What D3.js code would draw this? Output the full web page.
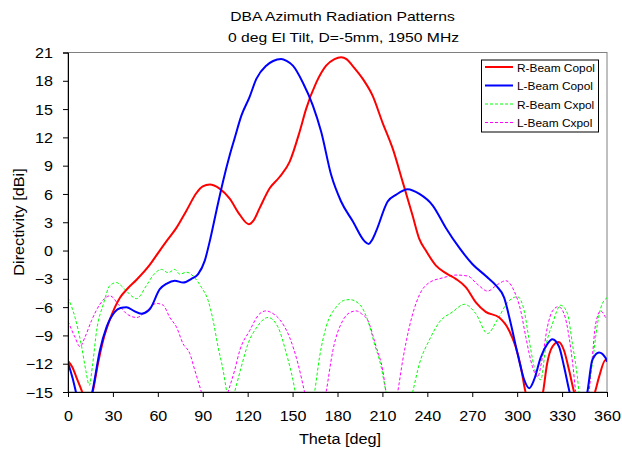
<!DOCTYPE html>
<html><head><meta charset="utf-8">
<script src="https://cdn.jsdelivr.net/npm/d3@7"></script>
<style>
html,body{margin:0;padding:0;background:#fff;}
text{font-family:"Liberation Sans",Arial,sans-serif;}
</style></head>
<body>
<svg id="chart" width="622" height="452"></svg>
<script>
const titleLines = ["DBA Azimuth Radiation Patterns", "0 deg El Tilt, D=-5mm, 1950 MHz"];
const xLabel = "Theta [deg]";
const yLabel = "Directivity [dBi]";
const xTicks = [0,30,60,90,120,150,180,210,240,270,300,330,360];
const yTicks = [-15,-12,-9,-6,-3,0,3,6,9,12,15,18,21];
const seriesNames = ["R-Beam Copol","L-Beam Copol","R-Beam Cxpol","L-Beam Cxpol"];

const rCopolTheta = [0,3,6,9.5,13,16.5,20,23.5,28,34.7,40,45.8,54.7,60,65.8,72.4,79,85.8,90,94.7,101,108,114.7,120.7,124,128,134.7,141.3,148,154.7,159,165.8,172.4,178,182.4,186,190,196.9,203.5,210,216.9,223.5,230,234.7,239,245.8,252.4,259,265.8,272.4,279,288,294.7,299,302.4,305.3,308,314,317.3,320,323.5,327.6,331.3,334.7,338,345,352,354.7,359,360];
const rCopolVal = [-11.7,-12.4,-13.6,-15,-16.5,-15,-12.0,-9.5,-7.3,-5.0,-4.0,-3.1,-1.5,-0.3,1.0,2.4,4.2,6.1,6.8,7.0,6.6,5.5,3.8,2.8,3.2,4.5,6.6,7.8,9.4,12.6,15.0,17.8,19.6,20.3,20.5,20.3,19.6,18.2,16.4,13.6,10.8,7.3,3.8,1.2,0.0,-1.6,-2.4,-3.0,-3.9,-5.5,-6.5,-7.1,-8.5,-10.2,-12.3,-14.8,-16.5,-17.5,-15,-12.0,-10.2,-9.7,-10.6,-12.7,-15,-18,-15,-13.4,-11.6,-11.7];

const lCopolTheta = [0,3,5.3,10,16.2,21.3,25.8,31.3,35,39,44,49,54.7,61.3,66,71.3,76.9,82.4,86.9,91.3,94.7,99.1,103.5,108,111.3,115.8,121.3,125.8,132.4,137,142.4,146,150.2,156.9,163.5,169.1,175.8,182.4,190.2,198,200.9,203,205.8,213.5,219,226.9,234.7,243.5,252.4,261.3,270.2,279.1,285.8,291.3,295.8,300.2,304.7,308,311.3,315.8,320.2,323.5,328,331.3,334.7,340,346.9,350.2,354.7,359.1,360];
const lCopolVal = [-11.9,-13.5,-15,-18,-15,-10.6,-8.1,-6.5,-6.1,-6.0,-6.4,-6.7,-6.2,-4.1,-3.5,-3.2,-3.4,-3.0,-2.5,-1.1,1.0,4.2,7.3,10.1,11.9,14.3,16.3,18.2,19.6,20.1,20.3,20.1,19.6,17.8,15.4,12.6,8.0,5.2,3.1,1.0,0.7,1.1,2.05,5.2,5.9,6.5,6.0,4.8,2.4,0.3,-1.45,-2.7,-3.7,-5.0,-7.8,-10.9,-13.7,-14.6,-13.7,-11.3,-9.9,-9.4,-10.2,-12.3,-14.8,-18,-15,-11.6,-10.8,-11.4,-11.8];

const rCxpolTheta = [0,4.7,9.1,12,14.2,16.5,19.1,23.6,28,32.4,36,39.1,45.8,52.4,57,62.4,66.9,71.3,74.7,79.1,84.7,89.1,93.6,96.9,100.2,103.6,105.8,108,111.3,115.8,120.2,125.8,133.6,140.2,145.8,150.2,151.8,158,164.7,168,172.4,179.1,184,188,194.7,200.2,204.7,209.1,212.4,221,230.2,234.7,241.3,248,256.9,264.7,272.4,280.2,286.9,293.6,300.2,304.7,308,311.3,315.8,319.1,323.5,329.1,333.6,336.9,340.2,341.3,344,346.9,350.2,353.6,356,360];
const rCxpolVal = [-5.0,-7.1,-10.2,-12.8,-14.3,-12.0,-8.5,-5.7,-3.7,-3.4,-3.8,-4.3,-5.1,-3.7,-2.6,-2.0,-2.35,-2.0,-2.5,-2.3,-2.9,-3.9,-5.3,-7.4,-10.2,-12.7,-14.8,-17,-15,-12.3,-9.9,-8.2,-7.1,-8.1,-10.9,-13.7,-15,-19,-15,-11.3,-8.1,-6.0,-5.3,-5.2,-5.7,-7.4,-9.9,-12.3,-15,-20,-15,-12.0,-9.5,-7.6,-6.5,-5.7,-6.7,-8.8,-7.3,-5.5,-4.9,-6.4,-9.5,-12.3,-13.7,-10.2,-7.8,-5.8,-6.7,-9.9,-13.4,-15,-17,-15,-12.0,-7.8,-6.0,-5.0];

const lCxpolTheta = [0,4.7,8,11.3,15.8,21.3,28,33.6,39.1,45.8,52.4,59.1,63.6,68,72.4,76.9,81.3,84.7,89.1,98,106.9,111.3,114.7,121.3,128,132.4,136,141.3,148,153.6,158,165,172.4,176.9,183.6,188,192.4,196,200.2,205.8,210.2,212.4,216,220.2,223.6,228,234.7,241.3,250.2,259.1,266.9,273.6,280.2,286.9,292.4,298,302.4,305.8,310.2,313.6,316.9,320.2,323.6,327.6,331.3,334.7,337.3,339.1,343,348,350.2,352.4,355.8,359.1,360];
const lCxpolVal = [-7.5,-9.2,-10.2,-9.2,-7.4,-5.7,-4.8,-5.7,-6.7,-7.1,-6.4,-5.6,-5.8,-7.1,-8.1,-9.9,-10.9,-12.7,-15,-20,-15,-12.7,-10.6,-8.5,-6.7,-6.4,-6.6,-7.3,-9.2,-12.0,-15,-20,-15,-10.6,-7.4,-6.6,-6.4,-6.7,-7.4,-10.2,-12.7,-15,-18,-15,-11.6,-8.1,-4.7,-3.4,-2.9,-2.6,-2.7,-3.6,-4.3,-3.6,-3.2,-4.3,-6.4,-9.2,-12.3,-13.4,-11.3,-8.1,-6.4,-5.95,-6.7,-9.2,-12.3,-15,-18,-15,-11.3,-7.8,-6.4,-7.1,-7.3];

const seriesColors = ["#ff0000","#0000ff","#00ff00","#ff00ff"];

const svg = d3.select("#chart");
const m = {left:68, top:52.5, right:607, bottom:392};
const x = d3.scaleLinear().domain([0,360]).range([m.left, m.right]);
const y = d3.scaleLinear().domain([-15,21]).range([m.bottom, m.top]);

// widen Arial-like text horizontally, like the reference rendering
function stretch(sel, k){
  sel.each(function(){
    const L = this.getComputedTextLength();
    d3.select(this).attr("textLength", L*k).attr("lengthAdjust","spacingAndGlyphs");
  });
}

// Titles
const t1 = svg.append("text").attr("x",342.5).attr("y",21).attr("text-anchor","middle").attr("font-size",13.5).text(titleLines[0]);
const t2 = svg.append("text").attr("x",343.5).attr("y",42).attr("text-anchor","middle").attr("font-size",13.5).text(titleLines[1]);
stretch(t1,1.16); stretch(t2,1.16);

// frame
svg.append("rect").attr("x",m.left).attr("y",m.top).attr("width",m.right-m.left).attr("height",m.bottom-m.top)
  .attr("fill","none").attr("stroke","#808080").attr("stroke-width",1);

svg.append("defs").append("clipPath").attr("id","clip").append("rect")
  .attr("x",m.left).attr("y",m.top).attr("width",m.right-m.left).attr("height",m.bottom-m.top);

const series = [
  {t:rCopolTheta, v:rCopolVal, dash:null, w:2},
  {t:lCopolTheta, v:lCopolVal, dash:null, w:2},
  {t:rCxpolTheta, v:rCxpolVal, dash:"3,2", w:1},
  {t:lCxpolTheta, v:lCxpolVal, dash:"3,2", w:1}
];
const line = d3.line().x(d=>x(d[0])).y(d=>y(d[1])).curve(d3.curveMonotoneX);
const g = svg.append("g").attr("clip-path","url(#clip)");
[3,2,0,1].forEach(i=>{
  const s = series[i];
  g.append("path").datum(s.t.map((t,j)=>[t,s.v[j]]))
   .attr("d",line).attr("fill","none").attr("stroke",seriesColors[i])
   .attr("stroke-width",s.w).attr("stroke-dasharray",s.dash);
});

// axes
const xAxis = d3.axisBottom(x).tickValues(xTicks).tickSize(5).tickPadding(13).tickFormat(d3.format("d"));
const yAxis = d3.axisLeft(y).tickValues(yTicks).tickSize(5).tickPadding(10).tickFormat(d3.format("d"));
const gx = svg.append("g").attr("transform",`translate(0,${m.bottom})`).call(xAxis);
const gy = svg.append("g").attr("transform",`translate(${m.left},0)`).call(yAxis);
gx.selectAll("text").attr("dy",null);
gy.selectAll("text").attr("dy","0.36em");
[gx,gy].forEach(a=>{
  a.selectAll("text").attr("font-size",14).attr("fill","#000").attr("font-family","Liberation Sans, Arial, sans-serif");
  a.selectAll("line").attr("stroke","#000");
  a.select(".domain").attr("stroke","#000");
  stretch(a.selectAll("text"),1.15);
});
gx.selectAll("text").attr("y",29);

const xt = svg.append("text").attr("x",340).attr("y",444).attr("text-anchor","middle").attr("font-size",14).text(xLabel);
stretch(xt,1.16);
const yt = svg.append("text").attr("transform","translate(24,222) rotate(-90)").attr("text-anchor","middle").attr("font-size",14).text(yLabel);
stretch(yt,1.16);

// legend
const lg = svg.append("g");
lg.append("rect").attr("x",481.5).attr("y",60).attr("width",117).attr("height",72).attr("fill","#fff").attr("stroke","#000").attr("stroke-width",1);
seriesNames.forEach((n,i)=>{
  const yy = 67 + i*18.5;
  lg.append("line").attr("x1",485).attr("x2",513).attr("y1",yy).attr("y2",yy)
    .attr("stroke",seriesColors[i]).attr("stroke-width",series[i].w).attr("stroke-dasharray",series[i].dash);
  const tx = lg.append("text").attr("x",517).attr("y",yy+4.5).attr("font-size",11).text(n);
  stretch(tx,1.08);
});
</script>
</body></html>
